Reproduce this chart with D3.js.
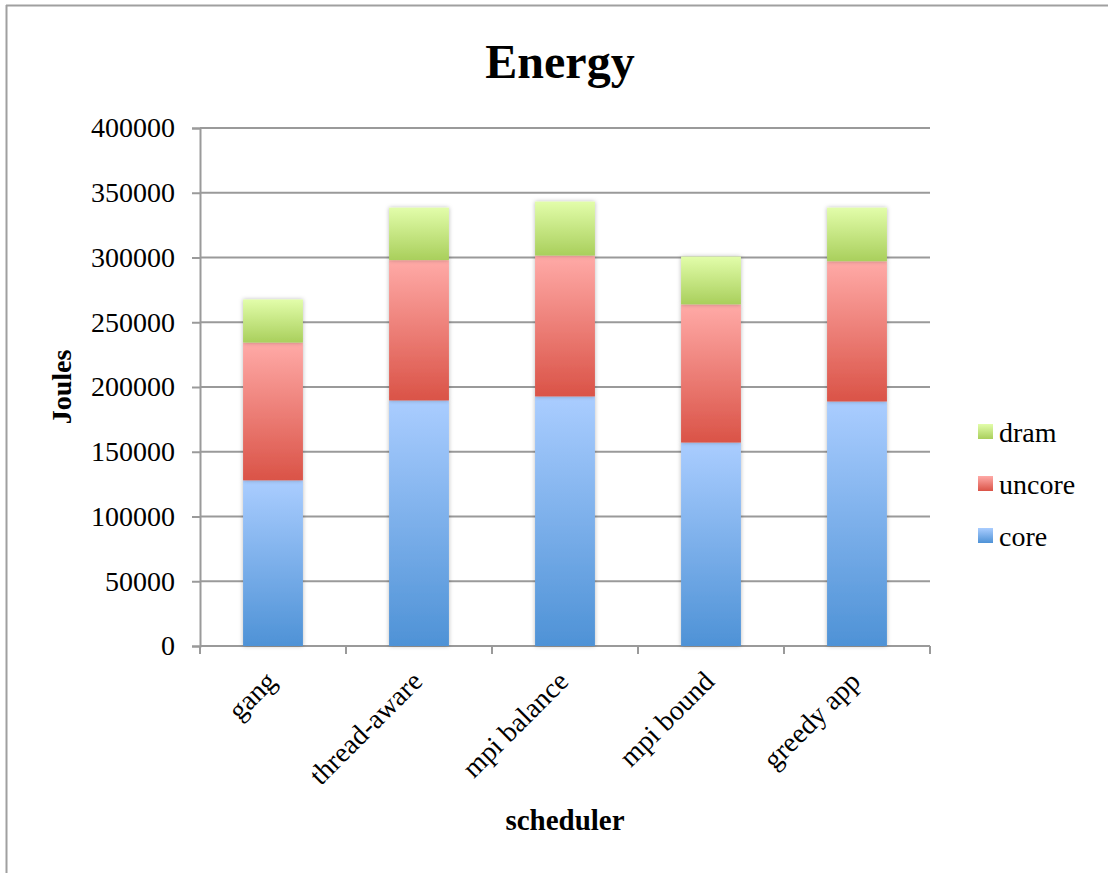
<!DOCTYPE html>
<html>
<head>
<meta charset="utf-8">
<script src="https://cdn.jsdelivr.net/npm/d3@7"></script>
<style>
  html, body { margin: 0; padding: 0; background: #fff; }
  svg { display: block; }
  text { font-family: "Liberation Serif", "Times New Roman", serif; fill: #000; }
</style>
</head>
<body>
<svg id="chart" width="1108" height="873"></svg>
<script>
// Energy per scheduler, split by RAPL domain (Joules)
const categories = ["gang", "thread-aware", "mpi balance", "mpi bound", "greedy app"];
const core   = [127900, 189600, 192700, 157100, 188800];
const uncore = [106400, 108400, 108800, 106700, 108300];
const dram   = [33300, 40500, 41700, 36900, 41400];
const seriesNames = ["core", "uncore", "dram"];
const yTicks = [0, 50000, 100000, 150000, 200000, 250000, 300000, 350000, 400000];

const rows = categories.map((c, i) => ({ cat: c, core: core[i], uncore: uncore[i], dram: dram[i] }));

const svg = d3.select("#chart");
const W = 1108, H = 873;
const m = { left: 200, right: 178, top: 128, bottom: 227 };
const innerW = W - m.left - m.right;
const innerH = H - m.top - m.bottom;
const FS = 28;

// Gradient stops (top colour, bottom colour) per series
const shades = {
  core:   ["#aacdff", "#4e92d6"],
  uncore: ["#ffaaa7", "#da5347"],
  dram:   ["#e2fdaa", "#a9cf5c"]
};

const defs = svg.append("defs");
seriesNames.forEach(s => {
  const g = defs.append("linearGradient").attr("id", "grad-" + s)
    .attr("x1", 0).attr("y1", 0).attr("x2", 0).attr("y2", 1);
  g.append("stop").attr("offset", "0%").attr("stop-color", shades[s][0]);
  g.append("stop").attr("offset", "100%").attr("stop-color", shades[s][1]);
});
const shadow = defs.append("filter").attr("id", "barShadow")
  .attr("x", "-20%").attr("y", "-20%").attr("width", "140%").attr("height", "140%");
shadow.append("feDropShadow").attr("dx", 0).attr("dy", 0)
  .attr("stdDeviation", 2.2).attr("flood-color", "#000").attr("flood-opacity", 0.28);

// Outer frame (top and left edges)
svg.append("line").attr("x1", 6).attr("x2", W).attr("y1", 5.5).attr("y2", 5.5)
  .attr("stroke", "#a0a0a0").attr("stroke-width", 2);
svg.append("line").attr("x1", 6.5).attr("x2", 6.5).attr("y1", 5).attr("y2", H)
  .attr("stroke", "#a0a0a0").attr("stroke-width", 2);

const x = d3.scaleBand().domain(categories).range([0, innerW]).paddingInner(0.59).paddingOuter(0.295);
const y = d3.scaleLinear().domain([0, 400000]).range([innerH, 0]);

const plot = svg.append("g").attr("transform", `translate(${m.left},${m.top})`);

// Horizontal gridlines
plot.append("g").selectAll("line").data(yTicks).join("line")
  .attr("x1", 0).attr("x2", innerW)
  .attr("y1", d => y(d)).attr("y2", d => y(d))
  .attr("stroke", "#9a9a9a").attr("stroke-width", 2);

// Y axis
const yAxis = plot.append("g").call(
  d3.axisLeft(y).tickValues(yTicks).tickSize(8).tickPadding(17).tickFormat(d3.format("d"))
);
yAxis.select(".domain").attr("stroke", "#9a9a9a").attr("stroke-width", 2);
yAxis.selectAll(".tick line").attr("stroke", "#9a9a9a").attr("stroke-width", 2);
yAxis.selectAll(".tick text").attr("font-size", FS).attr("font-family", "Liberation Serif, serif").attr("fill", "#000");

// X axis: ticks at category boundaries
const xAxis = plot.append("g").attr("transform", `translate(0,${innerH})`);
xAxis.append("line").attr("x1", 0).attr("x2", innerW).attr("y1", 0).attr("y2", 0)
  .attr("stroke", "#9a9a9a").attr("stroke-width", 2);
const step = innerW / categories.length;
xAxis.selectAll("line.tk").data(d3.range(categories.length + 1)).join("line")
  .attr("class", "tk")
  .attr("x1", i => i * step).attr("x2", i => i * step)
  .attr("y1", 0).attr("y2", 8)
  .attr("stroke", "#9a9a9a").attr("stroke-width", 2);
xAxis.selectAll("text").data(categories).join("text")
  .attr("transform", d => `translate(${x(d) + x.bandwidth() / 2 + 5},${37}) rotate(-45)`)
  .attr("text-anchor", "end")
  .attr("font-size", FS)
  .text(d => d);

// Stacked bars
const stacked = d3.stack().keys(seriesNames)(rows);
const layers = plot.append("g").selectAll("g").data(stacked).join("g")
  .attr("fill", d => `url(#grad-${d.key})`);
layers.selectAll("rect").data(d => d).join("rect")
  .attr("x", d => x(d.data.cat))
  .attr("width", x.bandwidth())
  .attr("y", d => y(d[1]))
  .attr("height", d => y(d[0]) - y(d[1]))
  .attr("filter", "url(#barShadow)");

// Titles
svg.append("text").attr("x", 560).attr("y", 78).attr("text-anchor", "middle")
  .attr("font-size", 48).attr("font-weight", "bold").text("Energy");
svg.append("text").attr("x", 565).attr("y", 830).attr("text-anchor", "middle")
  .attr("font-size", 29).attr("font-weight", "bold").text("scheduler");
svg.append("text").attr("transform", "translate(71,387) rotate(-90)").attr("text-anchor", "middle")
  .attr("font-size", FS).attr("font-weight", "bold").text("Joules");

// Legend (top to bottom: dram, uncore, core)
const legendOrder = ["dram", "uncore", "core"];
const legend = svg.append("g").attr("transform", "translate(978,424)");
legendOrder.forEach((s, i) => {
  const g = legend.append("g").attr("transform", `translate(0,${i * 52})`);
  g.append("rect").attr("width", 15).attr("height", 15).attr("fill", `url(#grad-${s})`);
  g.append("text").attr("x", 21).attr("y", 18).attr("font-size", FS).text(s);
});
</script>
</body>
</html>
